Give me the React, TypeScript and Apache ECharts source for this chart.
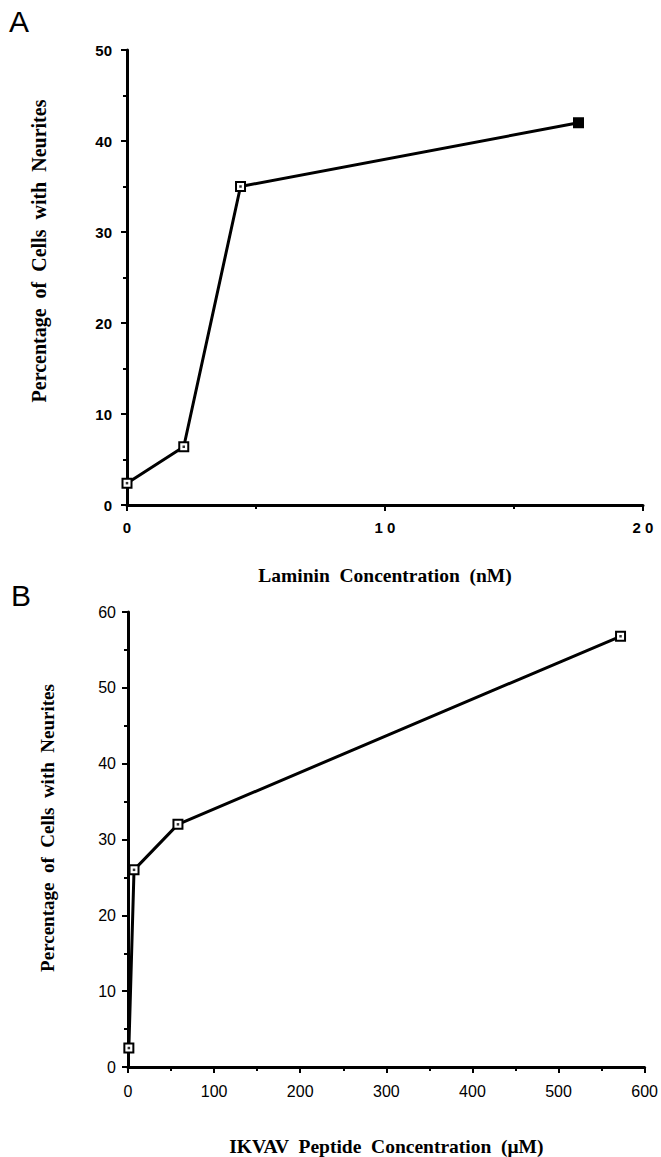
import React, { useEffect, useRef } from "react";
import * as echarts from "echarts";

const lamininX = [0, 2.2, 4.4, 17.5];
const lamininY = [2.4, 6.4, 35, 42];
const ikvavX = [1, 7, 58, 572];
const ikvavY = [2.5, 26, 32, 56.8];
const yTitle = "Percentage  of  Cells  with  Neurites";
const xTitleA = "Laminin  Concentration  (nM)";
const xTitleB = "IKVAV  Peptide  Concentration  (\u03BCM)";
const panelLabels = ["A", "B"];

const serif = "'Liberation Serif', 'DejaVu Serif', serif";
const sans = "'Liberation Sans', Arial, sans-serif";

export default function App() {
  const ref = useRef<HTMLDivElement>(null);
  useEffect(() => {
    document.body.style.margin = "0";
    const chart = echarts.init(ref.current!, null, { renderer: "svg" });
    const axisLine = { lineStyle: { color: "#000", width: 3 } };
    const axisTick = { length: 6, lineStyle: { color: "#000", width: 2 } };
    const minorTick = { show: true, splitNumber: 2, length: 4, lineStyle: { color: "#000", width: 2 } };
    const nameStyle = { fontFamily: serif, fontWeight: "bold", fontSize: 19.5, color: "#000" };
    const aData = lamininX.map((x, i) => [x, lamininY[i]]);
    const bData = ikvavX.map((x, i) => [x, ikvavY[i]]);
    const marker = { color: "#fff", borderColor: "#000", borderWidth: 2 };
    chart.setOption({
      animation: false,
      backgroundColor: "#fff",
      grid: [
        { left: 127, width: 516, top: 50, height: 455 },
        { left: 128, width: 517, top: 612, height: 456 },
      ],
      xAxis: [
        {
          gridIndex: 0, type: "value", min: 0, max: 20, interval: 10,
          axisLine, axisTick, minorTick, splitLine: { show: false },
          axisLabel: { color: "#000", fontFamily: sans, fontWeight: "bold", fontSize: 15, margin: 15,
            formatter: (v: number) => String(v).split("").join(" ") },
          name: xTitleA, nameLocation: "middle", nameGap: 60, nameTextStyle: nameStyle,
        },
        {
          gridIndex: 1, type: "value", min: 0, max: 600, interval: 100,
          axisLine, axisTick, minorTick, splitLine: { show: false },
          axisLabel: { color: "#000", fontFamily: sans, fontSize: 16, margin: 16 },
          name: xTitleB, nameLocation: "middle", nameGap: 69, nameTextStyle: nameStyle,
        },
      ],
      yAxis: [
        {
          gridIndex: 0, type: "value", min: 0, max: 50, interval: 10,
          axisLine, axisTick, minorTick, splitLine: { show: false },
          axisLabel: { color: "#000", fontFamily: sans, fontWeight: "bold", fontSize: 15, margin: 15 },
        },
        {
          gridIndex: 1, type: "value", min: 0, max: 60, interval: 10,
          axisLine, axisTick, minorTick, splitLine: { show: false },
          axisLabel: { color: "#000", fontFamily: sans, fontSize: 16, margin: 12 },
        },
      ],
      series: [
        {
          type: "line", xAxisIndex: 0, yAxisIndex: 0,
          data: aData.map((d, i) => i === aData.length - 1
            ? { value: d, itemStyle: { color: "#000", borderColor: "#000" } }
            : d),
          lineStyle: { color: "#000", width: 3 },
          symbol: "rect", symbolSize: 9, itemStyle: marker,
        },
        {
          type: "scatter", xAxisIndex: 0, yAxisIndex: 0, data: aData.slice(0, 3),
          symbol: "rect", symbolSize: 2.5, itemStyle: { color: "#000" }, z: 5,
        },
        {
          type: "line", xAxisIndex: 1, yAxisIndex: 1, data: bData,
          lineStyle: { color: "#000", width: 3 },
          symbol: "rect", symbolSize: 9, itemStyle: marker,
        },
        {
          type: "scatter", xAxisIndex: 1, yAxisIndex: 1, data: bData,
          symbol: "rect", symbolSize: 2.5, itemStyle: { color: "#000" }, z: 5,
        },
      ],
      graphic: [
        { type: "text", left: 9, top: 6, style: { text: panelLabels[0], font: `30px ${sans}`, fill: "#000" } },
        { type: "text", left: 11, top: 580, style: { text: panelLabels[1], font: `30px ${sans}`, fill: "#000" } },
        {
          type: "text", x: 39, y: 251, rotation: Math.PI / 2,
          style: { text: yTitle, font: `bold 20px ${serif}`, fill: "#000", align: "center", verticalAlign: "middle" },
        },
        {
          type: "text", x: 47, y: 828, rotation: Math.PI / 2,
          style: { text: yTitle, font: `bold 19px ${serif}`, fill: "#000", align: "center", verticalAlign: "middle" },
        },
      ],
    });
    return () => chart.dispose();
  }, []);
  return <div ref={ref} style={{ width: 661, height: 1157 }} />;
}
